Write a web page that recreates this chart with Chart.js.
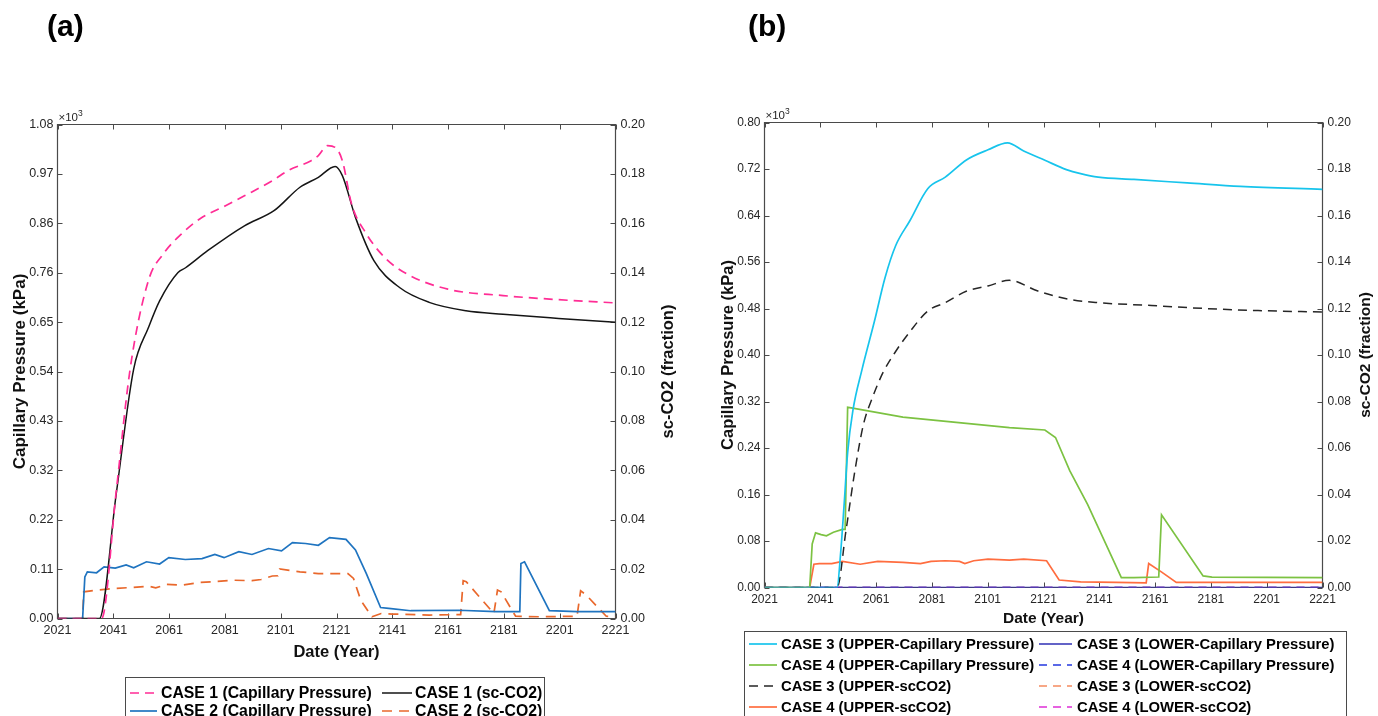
<!DOCTYPE html>
<html>
<head>
<meta charset="utf-8">
<title>Capillary pressure and sc-CO2 saturation</title>
<script src="https://cdn.jsdelivr.net/npm/chart.js@4.4.1/dist/chart.umd.min.js"></script>
<style>
  html, body { margin: 0; padding: 0; background: #ffffff; }
  #wrap { position: relative; width: 1378px; height: 716px; overflow: hidden; background: #fff; }
  canvas { position: absolute; top: 0; }
  #panelA { left: 0; }
  #panelB { left: 689px; }
</style>
</head>
<body>
<div id="wrap">
  <canvas id="panelA" width="689" height="716"></canvas>
  <canvas id="panelB" width="689" height="716"></canvas>
</div>
<script>
// ---------- tick labels ----------
const yearTicks = [2021, 2041, 2061, 2081, 2101, 2121, 2141, 2161, 2181, 2201, 2221];
const pcTickLabelsA = ['0.00', '0.11', '0.22', '0.32', '0.43', '0.54', '0.65', '0.76', '0.86', '0.97', '1.08'];
const pcTickLabelsB = ['0.00', '0.08', '0.16', '0.24', '0.32', '0.40', '0.48', '0.56', '0.64', '0.72', '0.80'];
const co2TickLabels = ['0.00', '0.02', '0.04', '0.06', '0.08', '0.10', '0.12', '0.14', '0.16', '0.18', '0.20'];
const pcMaxA = 1080;   // kPa
const pcMaxB = 800;    // kPa
const co2Max = 0.20;   // fraction

// ---------- panel (a) series ----------
const case1PcYears = [2021, 2036.8, 2042, 2047.0, 2053.6, 2058.9, 2065.5, 2072.1, 2081.4, 2088.0, 2098.0, 2103.9, 2111.9, 2114.5, 2117.8, 2120.5, 2123.1, 2126.4, 2131.7, 2138.3, 2146.3, 2160.9, 2180.7, 2200.6, 2221];
const case1PcKPa   = [0, 0, 275, 544, 739, 797, 841, 874, 903, 924, 957, 980, 1001, 1012, 1034, 1030, 1001, 906, 841, 789, 753, 720, 706, 697, 690];

const case1CO2Years = [2021, 2036, 2042, 2048.3, 2053.6, 2057.6, 2064.2, 2066.9, 2074.8, 2088.0, 2098.6, 2107.9, 2114.5, 2120.5, 2123.1, 2127.8, 2134.4, 2143.6, 2154.2, 2167.4, 2180.7, 2200.6, 2221];
const case1CO2Frac  = [0, 0, 0.050, 0.101, 0.1178, 0.1286, 0.1401, 0.1420, 0.1489, 0.1590, 0.1651, 0.1746, 0.1786, 0.1830, 0.1793, 0.1624, 0.1449, 0.1340, 0.1280, 0.1246, 0.1232, 0.1215, 0.1199];

const case2PcYears = [2021, 2030.0, 2030.8, 2031.7, 2035.0, 2037.7, 2041.7, 2045.6, 2048.3, 2052.9, 2057.6, 2060.9, 2066.8, 2072.8, 2077.4, 2080.7, 2086.0, 2090.7, 2096.6, 2101.3, 2105.2, 2109.9, 2114.5, 2118.5, 2124.4, 2127.8, 2131.7, 2136.8, 2139.7, 2147.6, 2164.8, 2178.1, 2186.7, 2187.1, 2188.4, 2197.3, 2207.2, 2221];
const case2PcKPa   = [0, 0, 91, 102, 100, 113, 110, 117, 111, 124, 119, 133, 129, 131, 140, 133, 146, 140, 153, 148, 166, 164, 160, 177, 173, 150, 98, 24, 22, 17, 18, 15, 15, 120, 124, 17, 15, 15];

const case2CO2Years = [2021, 2030.0, 2030.4, 2035.0, 2041.7, 2048.3, 2053.6, 2056.2, 2060.2, 2065.5, 2072.1, 2077.4, 2084.0, 2090.7, 2094.0, 2098.0, 2100.0, 2100.6, 2107.9, 2114.5, 2125.1, 2127.1, 2129.7, 2133.7, 2137.0, 2141.0, 2154.2, 2165.5, 2166.4, 2167.5, 2177.4, 2178.7, 2180.0, 2185.2, 2193.8, 2207.2, 2208.5, 2210.5, 2217.7, 2221];
const case2CO2Frac  = [0, 0, 0.0108, 0.0115, 0.0122, 0.0126, 0.0131, 0.0124, 0.0138, 0.0135, 0.0146, 0.0149, 0.0155, 0.0153, 0.0158, 0.0172, 0.0173, 0.0201, 0.0189, 0.0182, 0.0182, 0.0162, 0.0074, 0.0007, 0.0020, 0.0018, 0.0014, 0.0016, 0.0153, 0.0149, 0.0020, 0.0115, 0.0108, 0.0009, 0.0007, 0.0009, 0.0112, 0.0095, 0.0009, 0.0007];

// ---------- panel (b) series ----------
const case3UpperPcYears = [2021, 2047.0, 2048.3, 2049.5, 2050.8, 2052.7, 2055.9, 2060.4, 2064.2, 2068.0, 2073.1, 2079.5, 2085.8, 2093.5, 2101.1, 2108.1, 2113.9, 2121.5, 2129.2, 2134.3, 2140.6, 2153.4, 2172.5, 2191.6, 2221];
const case3UpperPcKPa   = [0, 0, 60, 140, 232, 305, 374, 458, 533, 588, 631, 686, 706, 736, 753, 765, 751, 735, 719, 712, 706, 702, 696, 690, 685];

const case4UpperPcYears = [2021, 2037.2, 2038.1, 2039.3, 2041.3, 2043.2, 2045.7, 2048.9, 2049.9, 2050.8, 2052.1, 2070.6, 2089.7, 2108.8, 2121.5, 2125.3, 2130.4, 2136.8, 2148.9, 2153.4, 2162.3, 2163.3, 2178.2, 2181.4, 2221];
const case4UpperPcKPa   = [0, 0, 75, 94, 91, 89, 95, 100, 100, 310, 309, 293, 284, 275, 271, 258, 201, 143, 17, 17, 18, 125, 20, 18, 17];

const case3UpperCO2Years = [2021, 2047.0, 2050.2, 2053.4, 2056.5, 2059.7, 2063.5, 2068.0, 2073.1, 2079.5, 2085.8, 2093.5, 2101.1, 2108.8, 2119.0, 2130.4, 2140.6, 2159.7, 2178.8, 2197.9, 2221];
const case3UpperCO2Frac  = [0, 0, 0.0244, 0.0502, 0.0703, 0.0817, 0.0925, 0.1015, 0.1100, 0.1189, 0.1225, 0.1275, 0.1297, 0.1321, 0.1275, 0.1239, 0.1225, 0.1213, 0.1200, 0.1191, 0.1185];

const case4UpperCO2Years = [2021, 2037.2, 2038.7, 2040.6, 2045.1, 2048.9, 2055.3, 2061.6, 2070.6, 2076.9, 2080.7, 2085.8, 2090.9, 2092.8, 2096.0, 2101.1, 2108.8, 2113.9, 2122.1, 2126.6, 2134.3, 2147.0, 2157.8, 2158.7, 2163.5, 2168.6, 2185.2, 2221];
const case4UpperCO2Frac  = [0, 0, 0.0100, 0.0103, 0.0103, 0.0112, 0.0100, 0.0112, 0.0108, 0.0103, 0.0112, 0.0115, 0.0112, 0.0103, 0.0115, 0.0122, 0.0118, 0.0122, 0.0115, 0.0032, 0.0024, 0.0022, 0.0020, 0.0103, 0.0065, 0.0022, 0.0022, 0.0022];

// the lower layer stays at zero over the whole period
const lowerYears        = [2021, 2221];
const case3LowerPcKPa   = [0, 0];
const case4LowerPcKPa   = [0, 0];
const case3LowerCO2Frac = [0, 0];
const case4LowerCO2Frac = [0, 0];

// ---------- styling ----------
const FONT = '"Liberation Sans", Arial, Helvetica, sans-serif';
const AXIS = '#4a4a4a';
const TICK = '#262626';
const OX_B = 689; // left offset of the second canvas

function series(label, xs, ys, axis, color, dash, width, smooth) {
  return {
    label,
    data: xs.map((x, i) => ({ x, y: ys[i] })),
    yAxisID: axis,
    borderColor: color,
    backgroundColor: color,
    borderDash: dash || [],
    borderWidth: width || 1.7,
    pointRadius: 0,
    pointHoverRadius: 0,
    cubicInterpolationMode: smooth ? 'monotone' : 'default',
    tension: 0,
    fill: false
  };
}

function vText(ctx, text, x, y) {
  ctx.save();
  ctx.translate(x, y);
  ctx.rotate(-Math.PI / 2);
  ctx.textAlign = 'center';
  ctx.textBaseline = 'middle';
  ctx.fillText(text, 0, 0);
  ctx.restore();
}

// frame, inward ticks, titles, exponent and the boxed two-column legend
function makeDecor(d) {
  return {
    id: 'panelDecor',
    beforeDatasetsDraw(chart) {
      const { ctx, chartArea: a, scales } = chart;
      ctx.save();
      ctx.strokeStyle = AXIS;
      ctx.lineWidth = 1.2;
      ctx.beginPath();
      ctx.rect(a.left, a.top, a.right - a.left, a.bottom - a.top);
      ctx.stroke();
      const T = 5;
      ctx.lineWidth = 1;
      ctx.beginPath();
      scales.x.ticks.forEach(t => {
        const px = Math.round(scales.x.getPixelForValue(t.value)) + 0.5;
        ctx.moveTo(px, a.bottom); ctx.lineTo(px, a.bottom - T);
        ctx.moveTo(px, a.top); ctx.lineTo(px, a.top + T);
      });
      scales.yL.ticks.forEach(t => {
        const py = Math.round(scales.yL.getPixelForValue(t.value)) + 0.5;
        ctx.moveTo(a.left, py); ctx.lineTo(a.left + T, py);
      });
      scales.yR.ticks.forEach(t => {
        const py = Math.round(scales.yR.getPixelForValue(t.value)) + 0.5;
        ctx.moveTo(a.right, py); ctx.lineTo(a.right - T, py);
      });
      ctx.stroke();
      ctx.restore();
    },
    afterDraw(chart) {
      const { ctx, chartArea: a } = chart;
      ctx.save();
      ctx.fillStyle = '#000';
      // panel letter
      ctx.font = `bold ${d.letterSize}px ${FONT}`;
      ctx.textAlign = 'left';
      ctx.textBaseline = 'middle';
      ctx.fillText(d.letter, d.letterX, d.letterY);
      // axis titles
      ctx.fillStyle = '#111';
      ctx.font = `bold ${d.leftTitleSize}px ${FONT}`;
      vText(ctx, 'Capillary Pressure (kPa)', d.leftTitleX, (a.top + a.bottom) / 2);
      ctx.font = `bold ${d.titleSize}px ${FONT}`;
      vText(ctx, 'sc-CO2 (fraction)', d.rightTitleX, (a.top + a.bottom) / 2);
      ctx.textAlign = 'center';
      ctx.textBaseline = 'middle';
      ctx.fillText('Date (Year)', (a.left + a.right) / 2, d.dateY);
      // ×10^3 multiplier of the pressure axis
      ctx.fillStyle = TICK;
      ctx.textAlign = 'left';
      ctx.textBaseline = 'alphabetic';
      ctx.font = `11.5px ${FONT}`;
      const base = a.top - 4;
      ctx.fillText('\u00d710', a.left + 1, base);
      const w = ctx.measureText('\u00d710').width;
      ctx.font = `8.5px ${FONT}`;
      ctx.fillText('3', a.left + 1 + w, base - 5);
      // legend
      const lg = d.legend;
      ctx.strokeStyle = AXIS;
      ctx.lineWidth = 1;
      ctx.strokeRect(lg.x + 0.5, lg.y + 0.5, lg.w, lg.h);
      ctx.font = `bold ${lg.size}px ${FONT}`;
      ctx.textBaseline = 'middle';
      ctx.textAlign = 'left';
      lg.items.forEach(it => {
        const ds = chart.data.datasets[it.ds];
        const col = lg.cols[it.col];
        const y = lg.rows[it.row];
        ctx.save();
        ctx.strokeStyle = ds.borderColor;
        ctx.lineWidth = ds.borderWidth;
        ctx.setLineDash(ds.borderDash);
        ctx.beginPath();
        ctx.moveTo(col.x0, y);
        ctx.lineTo(col.x1, y);
        ctx.stroke();
        ctx.restore();
        ctx.fillStyle = '#000';
        ctx.fillText(ds.label, col.tx, y + 0.5);
      });
      ctx.restore();
    }
  };
}

function makePanel(canvas, datasets, p) {
  const tickFont = { family: FONT, size: p.tickSize };
  return new Chart(canvas, {
    type: 'line',
    data: { datasets },
    plugins: [makeDecor(p.decor)],
    options: {
      responsive: false,
      animation: false,
      devicePixelRatio: 1,
      events: [],
      layout: { padding: { top: p.top, left: 0, right: 0, bottom: 0 } },
      plugins: { legend: { display: false }, tooltip: { enabled: false }, title: { display: false } },
      scales: {
        x: {
          type: 'linear', position: 'bottom', min: 2021, max: 2221,
          afterBuildTicks: s => { s.ticks = yearTicks.map(v => ({ value: v })); },
          afterFit: s => { s.height = p.xH; },
          grid: { display: false, drawTicks: false },
          border: { display: false },
          ticks: { callback: v => String(v), font: tickFont, color: TICK, padding: p.xPad, maxRotation: 0, minRotation: 0, autoSkip: false }
        },
        yL: {
          type: 'linear', position: 'left', min: 0, max: p.pcMax,
          afterBuildTicks: s => { s.ticks = p.pcLabels.map((_, i) => ({ value: i * p.pcMax / (p.pcLabels.length - 1) })); },
          afterFit: s => { s.width = p.leftW; },
          grid: { display: false, drawTicks: false },
          border: { display: false },
          ticks: { callback: (v, i) => p.pcLabels[i], font: tickFont, color: TICK, padding: 4, autoSkip: false }
        },
        yR: {
          type: 'linear', position: 'right', min: 0, max: co2Max,
          afterBuildTicks: s => { s.ticks = co2TickLabels.map((_, i) => ({ value: i * co2Max / (co2TickLabels.length - 1) })); },
          afterFit: s => { s.width = p.rightW; },
          grid: { display: false, drawTicks: false },
          border: { display: false },
          ticks: { callback: (v, i) => co2TickLabels[i], font: tickFont, color: TICK, padding: 5, autoSkip: false }
        }
      }
    }
  });
}

// ---------- panel (a) ----------
makePanel(document.getElementById('panelA'), [
  series('CASE 1 (Capillary Pressure)', case1PcYears, case1PcKPa, 'yL', '#ff2d95', [9, 6], 1.7, true),
  series('CASE 1 (sc-CO2)', case1CO2Years, case1CO2Frac, 'yR', '#151515', [], 1.5, true),
  series('CASE 2 (Capillary Pressure)', case2PcYears, case2PcKPa, 'yL', '#1f74c0', [], 1.7),
  series('CASE 2 (sc-CO2)', case2CO2Years, case2CO2Frac, 'yR', '#e9682c', [10, 7], 1.7)
], {
  top: 124.5, xH: 97.5, leftW: 57.5, rightW: 73.5, xPad: 5,
  pcMax: pcMaxA, pcLabels: pcTickLabelsA, tickSize: 12.5,
  decor: {
    letter: '(a)', letterSize: 30, letterX: 47, letterY: 28,
    titleSize: 16.5, leftTitleSize: 17, leftTitleX: 20, rightTitleX: 668, dateY: 652,
    legend: {
      x: 125, y: 677, w: 419, h: 50, size: 15.8,
      rows: [693, 711],
      cols: [{ x0: 130, x1: 157, tx: 161 }, { x0: 382, x1: 412, tx: 415 }],
      items: [{ ds: 0, col: 0, row: 0 }, { ds: 1, col: 1, row: 0 }, { ds: 2, col: 0, row: 1 }, { ds: 3, col: 1, row: 1 }]
    }
  }
});

// ---------- panel (b) ----------
makePanel(document.getElementById('panelB'), [
  series('CASE 3 (UPPER-Capillary Pressure)', case3UpperPcYears, case3UpperPcKPa, 'yL', '#17c4ec', [], 1.7, true),
  series('CASE 4 (UPPER-Capillary Pressure)', case4UpperPcYears, case4UpperPcKPa, 'yL', '#7cc242', [], 1.7),
  series('CASE 3 (UPPER-scCO2)', case3UpperCO2Years, case3UpperCO2Frac, 'yR', '#262626', [9, 6], 1.5, true),
  series('CASE 4 (UPPER-scCO2)', case4UpperCO2Years, case4UpperCO2Frac, 'yR', '#ff6d3f', [], 1.7),
  series('CASE 3 (LOWER-Capillary Pressure)', lowerYears, case3LowerPcKPa, 'yL', '#2f2fb4', [], 1.7),
  series('CASE 4 (LOWER-Capillary Pressure)', lowerYears, case4LowerPcKPa, 'yL', '#2438e0', [8, 6], 1.7),
  series('CASE 3 (LOWER-scCO2)', lowerYears, case3LowerCO2Frac, 'yR', '#f58a5f', [8, 6], 1.7),
  series('CASE 4 (LOWER-scCO2)', lowerYears, case4LowerCO2Frac, 'yR', '#de2fd6', [8, 6], 1.7)
], {
  top: 122.5, xH: 128.5, leftW: 75.5, rightW: 55.5, xPad: 5,
  pcMax: pcMaxB, pcLabels: pcTickLabelsB, tickSize: 12,
  decor: {
    letter: '(b)', letterSize: 30, letterX: 748 - OX_B, letterY: 28,
    titleSize: 15.5, leftTitleSize: 16.5, leftTitleX: 728 - OX_B, rightTitleX: 1366 - OX_B, dateY: 619,
    legend: {
      x: 744 - OX_B, y: 631, w: 602, h: 95, size: 14.8,
      rows: [644, 665, 686, 707],
      cols: [{ x0: 749 - OX_B, x1: 777 - OX_B, tx: 781 - OX_B }, { x0: 1039 - OX_B, x1: 1072 - OX_B, tx: 1077 - OX_B }],
      items: [
        { ds: 0, col: 0, row: 0 }, { ds: 1, col: 0, row: 1 }, { ds: 2, col: 0, row: 2 }, { ds: 3, col: 0, row: 3 },
        { ds: 4, col: 1, row: 0 }, { ds: 5, col: 1, row: 1 }, { ds: 6, col: 1, row: 2 }, { ds: 7, col: 1, row: 3 }
      ]
    }
  }
});
</script>
</body>
</html>
